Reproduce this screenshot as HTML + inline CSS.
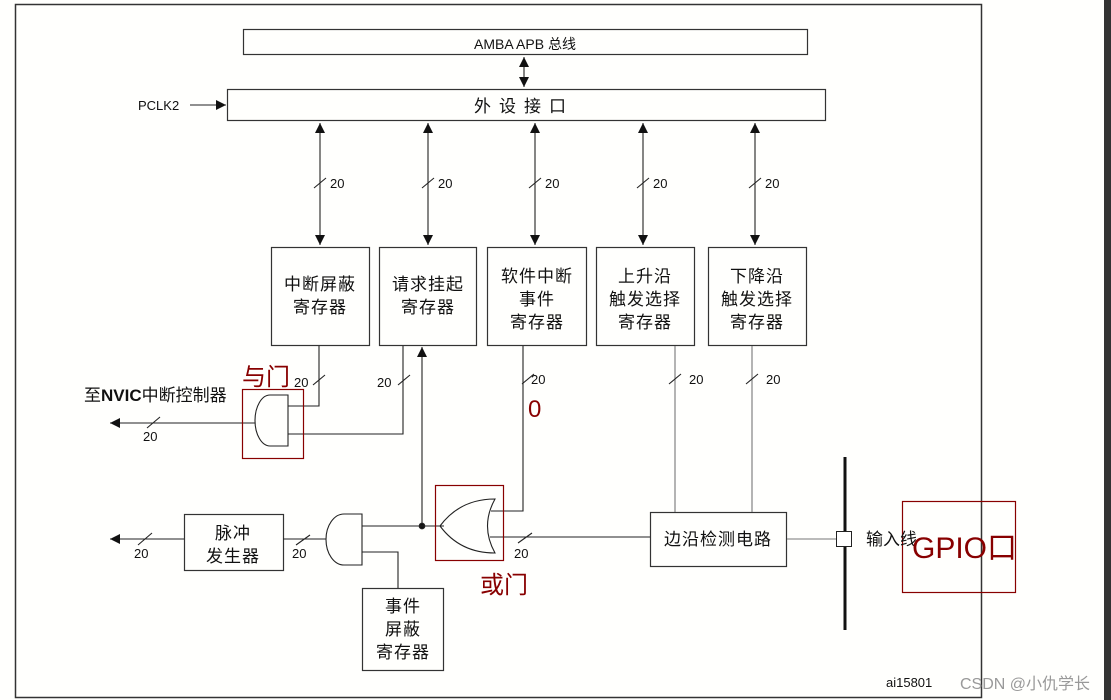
<!DOCTYPE html>
<html><head><meta charset="utf-8"><style>
html,body{margin:0;padding:0;background:#fffffd;}
svg{display:block}
text{font-family:"Liberation Sans","Noto Sans CJK SC",sans-serif;fill:#111}
</style></head><body>
<svg width="1111" height="700" viewBox="0 0 1111 700" xmlns="http://www.w3.org/2000/svg">
<defs>
<marker id="ah" markerWidth="12" markerHeight="12" refX="10" refY="5" orient="auto-start-reverse" markerUnits="userSpaceOnUse">
<path d="M0,0 L10,5 L0,10 Z" fill="#111"/></marker>
</defs>
<rect x="0" y="0" width="1111" height="700" fill="#fffffd"/>
<rect x="1104" y="0" width="7" height="700" fill="#333"/>
<!-- frame -->
<rect x="15.5" y="4.5" width="966" height="693" fill="none" stroke="#333" stroke-width="1.5"/>
<g fill="none" stroke="#333" stroke-width="1.2">
<rect x="243.5" y="29.5" width="564" height="25"/>
<rect x="227.5" y="89.5" width="598" height="31"/>
<rect x="271.5" y="247.5" width="98" height="98"/>
<rect x="379.5" y="247.5" width="97" height="98"/>
<rect x="487.5" y="247.5" width="99" height="98"/>
<rect x="596.5" y="247.5" width="98" height="98"/>
<rect x="708.5" y="247.5" width="98" height="98"/>
<rect x="650.5" y="512.5" width="136" height="54"/>
<rect x="184.5" y="514.5" width="99" height="56"/>
<rect x="362.5" y="588.5" width="81" height="82"/>
</g>
<g stroke="#222" stroke-width="1.1" fill="none">
<line x1="524" y1="57" x2="524" y2="87" marker-start="url(#ah)" marker-end="url(#ah)"/>
<line x1="190" y1="105" x2="226" y2="105" marker-end="url(#ah)"/>
<line x1="320" y1="123" x2="320" y2="245" marker-start="url(#ah)" marker-end="url(#ah)"/>
<line x1="428" y1="123" x2="428" y2="245" marker-start="url(#ah)" marker-end="url(#ah)"/>
<line x1="535" y1="123" x2="535" y2="245" marker-start="url(#ah)" marker-end="url(#ah)"/>
<line x1="643" y1="123" x2="643" y2="245" marker-start="url(#ah)" marker-end="url(#ah)"/>
<line x1="755" y1="123" x2="755" y2="245" marker-start="url(#ah)" marker-end="url(#ah)"/>
<!-- slashes -->
<line x1="314" y1="188" x2="326" y2="178"/><line x1="422" y1="188" x2="434" y2="178"/>
<line x1="529" y1="188" x2="541" y2="178"/><line x1="637" y1="188" x2="649" y2="178"/>
<line x1="749" y1="188" x2="761" y2="178"/>
<!-- and gate 1 wiring -->
<polyline points="319,346 319,406 288,406"/>
<polyline points="403,346 403,434 288,434"/>
<line x1="255" y1="423" x2="110" y2="423" marker-end="url(#ah)"/>
<path d="M288,395 L270,395 A15,25.5 0 0 0 270,446 L288,446 Z"/>
<line x1="313" y1="385" x2="325" y2="375"/><line x1="398" y1="385" x2="410" y2="375"/>
<line x1="147" y1="428" x2="160" y2="417"/>
<!-- arrow up -->
<line x1="422" y1="526" x2="422" y2="347" marker-end="url(#ah)"/>
<circle cx="422" cy="526" r="2.8" fill="#111"/>
<!-- OR gate -->
<path d="M495,499 Q460,499 440,526 Q460,553 495,553 Q480,526 495,499 Z"/>
<polyline points="523,346 523,511 491,511"/>
<line x1="490" y1="537" x2="650" y2="537"/>
<line x1="518" y1="543" x2="532" y2="533"/>
<line x1="522" y1="384" x2="534" y2="374"/>
<line x1="362" y1="526" x2="444" y2="526"/>
<!-- AND gate 2 -->
<path d="M362,514 L344,514 A18,25.5 0 0 0 344,565 L362,565 Z"/>
<polyline points="362,552 398,552 398,588"/>
<line x1="283" y1="539" x2="326" y2="539"/>
<line x1="296" y1="545" x2="310" y2="535"/>
<line x1="184" y1="539" x2="110" y2="539" marker-end="url(#ah)"/>
<line x1="138" y1="545" x2="152" y2="533"/>
<!-- edge lines -->
<line x1="675" y1="346" x2="675" y2="512" stroke="#777"/>
<line x1="752" y1="346" x2="752" y2="512" stroke="#777"/>
<line x1="669" y1="384" x2="681" y2="374"/><line x1="746" y1="384" x2="758" y2="374"/>
<line x1="787" y1="539" x2="836" y2="539" stroke="#777"/>
</g>
<line x1="845" y1="457" x2="845" y2="630" stroke="#111" stroke-width="3"/>
<rect x="836.5" y="531.5" width="15" height="15" fill="#fff" stroke="#222" stroke-width="1"/>
<!-- red annotations -->
<g fill="none" stroke="#800" stroke-width="1.2">
<rect x="242.5" y="389.5" width="61" height="69"/>
<rect x="435.5" y="485.5" width="68" height="75"/>
<rect x="902.5" y="501.5" width="113" height="91"/>
</g>
<!-- text -->
<text x="525" y="49" font-size="14" text-anchor="middle">AMBA APB 总线</text>
<text x="524" y="112" font-size="17" text-anchor="middle" letter-spacing="8">外设接口</text>
<text x="138" y="110" font-size="13">PCLK2</text>
<g font-size="13">
<text x="330" y="188">20</text><text x="438" y="188">20</text><text x="545" y="188">20</text>
<text x="653" y="188">20</text><text x="765" y="188">20</text>
<text x="294" y="387">20</text><text x="377" y="387">20</text><text x="531" y="384">20</text>
<text x="689" y="384">20</text><text x="766" y="384">20</text>
<text x="143" y="441">20</text><text x="514" y="558">20</text><text x="292" y="558">20</text>
<text x="134" y="558">20</text>
</g>
<g font-size="17" text-anchor="middle" letter-spacing="1">
<text x="320" y="290">中断屏蔽</text><text x="320" y="313">寄存器</text>
<text x="428" y="290">请求挂起</text><text x="428" y="313">寄存器</text>
<text x="537" y="282">软件中断</text><text x="537" y="305">事件</text><text x="537" y="328">寄存器</text>
<text x="645" y="282">上升沿</text><text x="645" y="305">触发选择</text><text x="645" y="328">寄存器</text>
<text x="757" y="282">下降沿</text><text x="757" y="305">触发选择</text><text x="757" y="328">寄存器</text>
<text x="718" y="545">边沿检测电路</text>
<text x="233" y="539">脉冲</text><text x="233" y="562">发生器</text>
<text x="403" y="612">事件</text><text x="403" y="635">屏蔽</text><text x="403" y="658">寄存器</text>
</g>
<text x="84" y="401" font-size="17">至<tspan font-weight="bold">NVIC</tspan>中断控制器</text>
<text x="866" y="545" font-size="17">输入线</text>
<g fill="#800" style="fill:#800">
<text x="242" y="385" font-size="24" style="fill:#800">与门</text>
<text x="528" y="417" font-size="24" style="fill:#800">0</text>
<text x="480" y="593" font-size="24" style="fill:#800">或门</text>
<text x="912" y="558" font-size="30" style="fill:#800">GPIO口</text>
</g>
<text x="886" y="687" font-size="13">ai15801</text>
<text x="960" y="689" font-size="16" style="fill:#999">CSDN @小仇学长</text>
</svg>
</body></html>
